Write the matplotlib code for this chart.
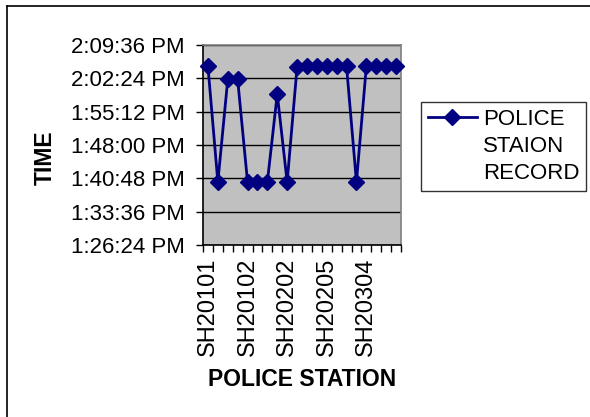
import numpy as np
import matplotlib.pyplot as plt
from matplotlib.ticker import FuncFormatter, MultipleLocator
from matplotlib.lines import Line2D

plt.rcParams['font.family'] = ['Liberation Sans', 'DejaVu Sans']

record_times = [
    "2:05:00 PM", "1:40:00 PM", "2:02:10 PM", "2:02:10 PM", "1:40:00 PM",
    "1:40:00 PM", "1:40:00 PM", "1:59:00 PM", "1:40:00 PM", "2:04:45 PM",
    "2:05:00 PM", "2:05:00 PM", "2:05:00 PM", "2:05:00 PM", "2:05:00 PM",
    "1:40:00 PM", "2:05:00 PM", "2:05:00 PM", "2:05:00 PM", "2:05:00 PM",
]
# only every 4th station name is printed on the axis
tick_labels = ["SH20101", "SH20102", "SH20202", "SH20205", "SH20304"]
label_step = 4
legend_lines = ["POLICE", "STAION", "RECORD"]

y_min, y_max, y_step = "1:26:24 PM", "2:09:36 PM", 432  # 7:12 steps


def to_seconds(s):
    t, ampm = s.split()
    h, m, sec = (int(v) for v in t.split(":"))
    if ampm == "PM" and h != 12:
        h += 12
    return h * 3600 + m * 60 + sec


def fmt_time(v, pos=None):
    v = int(round(v))
    h, rem = divmod(v, 3600)
    m, s = divmod(rem, 60)
    ampm = "PM" if h >= 12 else "AM"
    h12 = h - 12 if h > 12 else h
    return f"{h12}:{m:02d}:{s:02d} {ampm}"


secs = np.array([to_seconds(t) for t in record_times])
xs = np.arange(len(secs))

fig = plt.figure(figsize=(5.9, 4.17), dpi=100)
ax = fig.add_axes([203 / 590, 1 - 245 / 417, 198 / 590, 200 / 417])
ax.set_facecolor('#c0c0c0')

ax.plot(xs, secs, color='#000080', linewidth=2, marker='D', markersize=8,
        zorder=3, clip_on=False)

ax.set_ylim(to_seconds(y_min), to_seconds(y_max))
ax.yaxis.set_major_locator(MultipleLocator(y_step))
ax.yaxis.set_major_formatter(FuncFormatter(fmt_time))
ax.grid(axis='y', color='black', linewidth=1)
ax.set_axisbelow(True)

ax.set_xlim(-0.5, len(secs) - 0.5)
ax.set_xticks(np.arange(-0.5, len(secs)), minor=True)
ax.set_xticks(xs[::label_step])
ax.set_xticklabels(tick_labels, rotation=90)
ax.tick_params(axis='x', which='major', length=0, pad=9, labelsize=17)
ax.tick_params(axis='x', which='minor', length=5, width=1, direction='out')
ax.tick_params(axis='y', length=5, width=1, direction='out', pad=8, labelsize=16)

for sp in ax.spines.values():
    sp.set_color('#808080')
    sp.set_linewidth(1.2)
ax.spines['left'].set_color('black')
ax.spines['bottom'].set_color('black')

fig.text(302 / 590, 1 - 380 / 417, "POLICE STATION", ha='center', va='center',
         fontsize=16.5, fontweight='bold')
fig.text(45 / 590, 1 - 158 / 417, "TIME", ha='center', va='center',
         rotation=90, fontsize=16.5, fontweight='bold')

# legend: the marker sits beside the first line of the wrapped label
handles = [Line2D([], [], color='#000080', linewidth=2, marker='D', markersize=8)]
handles += [Line2D([], [], linestyle='none') for _ in legend_lines[1:]]
leg = fig.legend(handles, legend_lines, loc='upper left',
                 bbox_to_anchor=(421 / 590, 1 - 102 / 417), fontsize=16,
                 frameon=True, fancybox=False, handlelength=2.2,
                 handletextpad=0.3, borderpad=0.3, labelspacing=0.28,
                 borderaxespad=0)
leg.get_frame().set_edgecolor('black')
leg.get_frame().set_linewidth(1)

# outer chart border (only top and left edges are visible)
fig.add_artist(Line2D([7 / 590, 7 / 590], [0, 1 - 6 / 417], color='black', linewidth=1.2))
fig.add_artist(Line2D([7 / 590, 1], [1 - 6 / 417, 1 - 6 / 417], color='black', linewidth=1.2))

fig.savefig("out.png", dpi=100)
